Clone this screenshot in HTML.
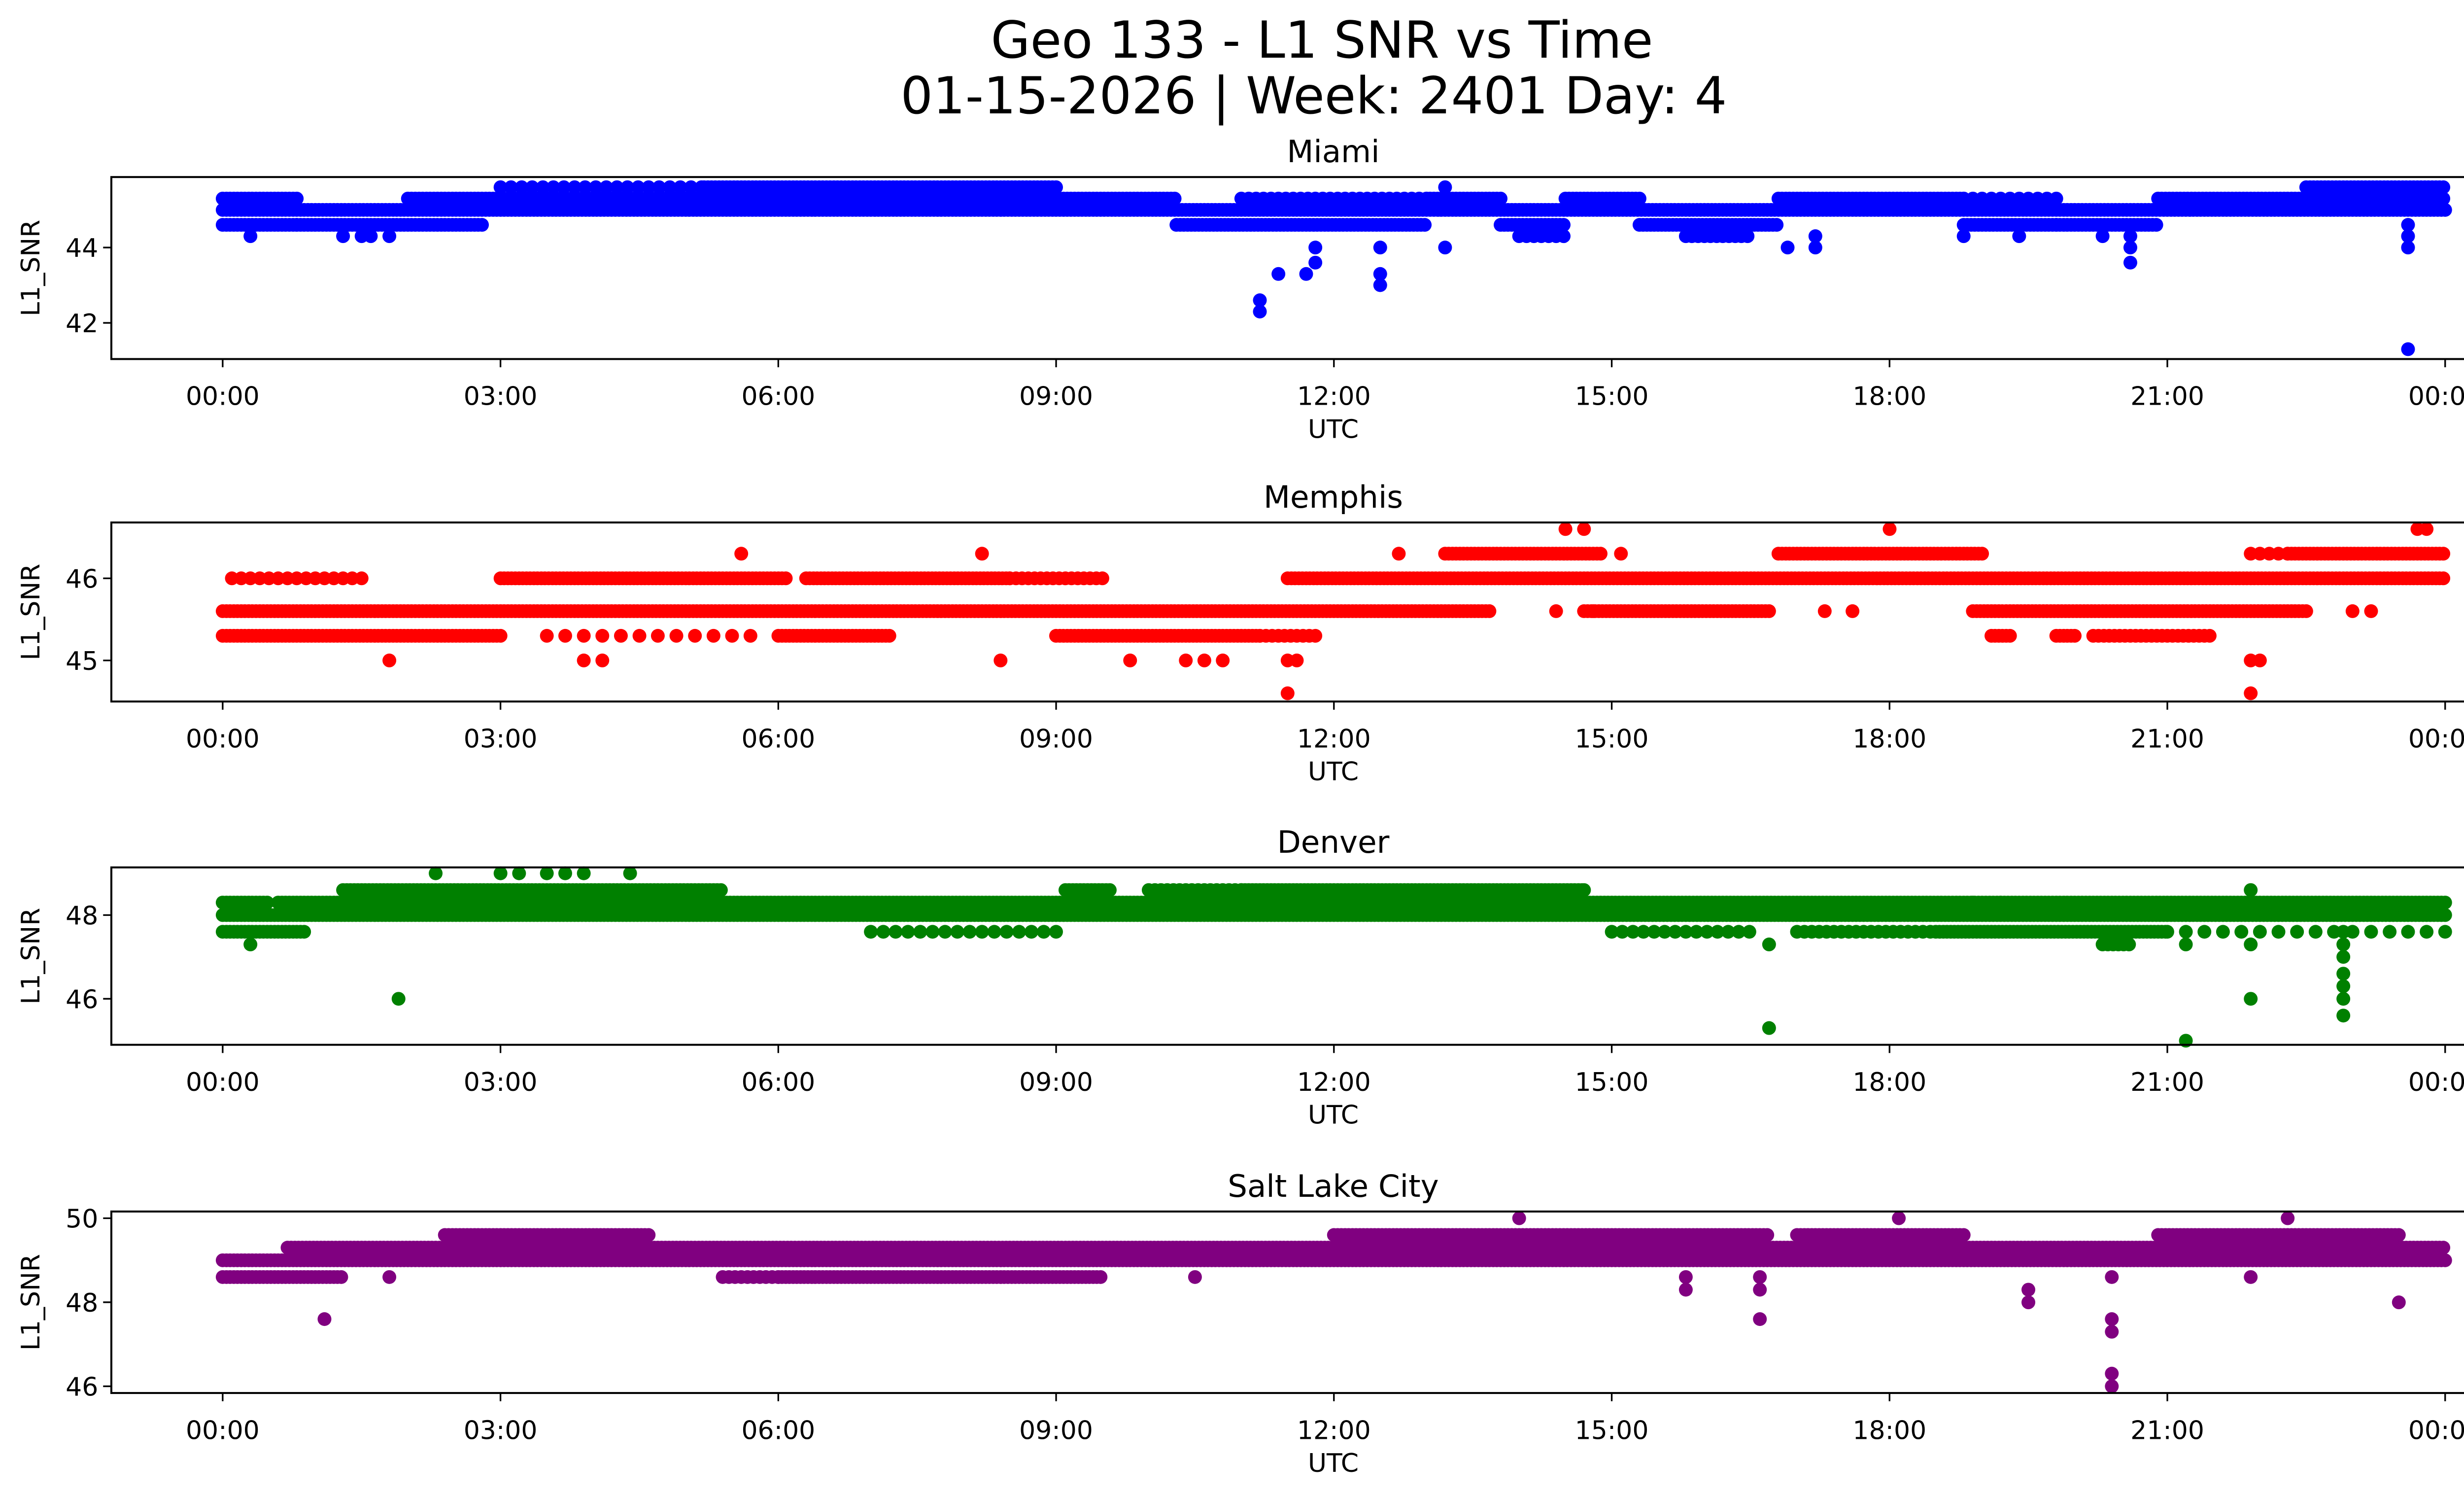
<!DOCTYPE html>
<html><head><meta charset="utf-8"><style>
html,body{margin:0;padding:0;background:#fff;overflow:hidden;}
svg{display:block;font-family:"DejaVu Sans","Liberation Sans",sans-serif;}
</style></head><body>
<svg id="chart" width="5225" height="3033" viewBox="0 0 1568 910" xmlns="http://www.w3.org/2000/svg">
<text x="805" y="35" font-size="31" text-anchor="middle">Geo 133 - L1 SNR vs Time</text>
<text x="800" y="69" font-size="31" text-anchor="middle">01-15-2026 | Week: 2401 Day: 4</text>
<g id="plots"></g>
</svg>
<script>
// ---- data (hours UTC, SNR dB) ----
const panelNames = ["Miami","Memphis","Denver","Salt Lake City"];
const panelColors = ["#0000ff","#ff0000","#008000","#800080"];
const yTicks = [[42,44],[45,46],[46,48],[46,48,50]];
const yDomains = [[41.04,45.87],[44.5,46.68],[44.9,49.14],[45.84,50.16]];
const xTickLabels = ["00:00","03:00","06:00","09:00","12:00","15:00","18:00","21:00","00:00"];
// bands: [startHour, endHour, value, density]
const miamiBands = [[0,24,45.0],[0,0.8,45.3],[0,0.8,44.6],[0.8,2.8,44.6],[2.0,10.3,45.3],[5.2,9.0,45.6],[3.0,5.2,45.6,0.35],
 [10.3,13.0,44.6],[11.0,13.0,45.3,0.5],[13.0,13.8,45.3],[13.8,14.5,44.6],[14.5,15.3,45.3],[15.3,16.8,44.6],[16.8,18.8,45.3],
 [18.8,19.8,44.6],[18.8,19.8,45.3,0.4],[19.8,20.9,44.6],[20.9,24,45.3],[22.5,24,45.6],[14.0,14.5,44.3,0.5],[15.8,16.5,44.3,0.6]];
const miamiX = [0.3,1.3,1.5,1.6,1.8,11.2,11.2,11.4,11.7,11.8,11.8,12.5,12.5,12.5,13.2,13.2,16.9,17.2,17.2,20.6,20.6,20.6,23.6,23.6,23.6,23.6,18.8,19.4,20.3];
const miamiY = [44.3,44.3,44.3,44.3,44.3,42.6,42.3,43.3,43.3,43.6,44.0,43.0,43.3,44.0,44.0,45.6,44.0,44.0,44.3,43.6,44.0,44.3,41.3,44.0,44.3,44.6,44.3,44.3,44.3];
const memphisBands = [[0,13.7,45.6],[0,3.0,45.3],[0.1,1.5,46.0,0.4],[3.0,6.1,46.0],[6.0,7.2,45.3],[6.3,8.5,46.0],[8.5,9.5,46.0,0.6],
 [9.0,11.2,45.3],[3.5,5.8,45.3,0.2],[11.5,24,46.0],[11.2,11.8,45.3,0.6],[13.2,14.9,46.3],[16.8,19.0,46.3],[22.3,24,46.3],[21.9,22.3,46.3,0.4],
 [14.7,16.7,45.6],[18.9,22.5,45.6],[20.2,21.5,45.3,0.7],[19.1,19.3,45.3],[19.8,20.0,45.3]];
const memphisX = [14.5,14.7,18.0,23.7,23.8,1.8,3.9,4.1,8.4,9.8,10.4,10.6,10.8,11.5,11.6,21.9,22.0,11.5,21.9,5.6,8.2,12.7,15.1,14.4,14.8,17.3,17.6,23.0,23.2];
const memphisY = [46.6,46.6,46.6,46.6,46.6,45.0,45.0,45.0,45.0,45.0,45.0,45.0,45.0,45.0,45.0,45.0,45.0,44.6,44.6,46.3,46.3,46.3,46.3,45.6,45.6,45.6,45.6,45.6,45.6];
const denverBands = [[0,24,48.0],[0,0.5,48.3],[0.6,24,48.3],[0,0.9,47.6],[7.0,9.0,47.6,0.3],[15.0,16.5,47.6,0.35],[17.0,18.5,47.6,0.5],[18.5,21.0,47.6],
 [21.0,24,47.6,0.2],[1.3,5.4,48.6],[9.1,9.6,48.6],[10.0,11.0,48.6,0.6],[11.0,14.7,48.6],[20.3,20.6,47.3,0.7]];
const denverX = [2.3,3.0,3.2,3.5,3.7,3.9,4.4,1.9,16.7,16.7,21.2,21.2,21.9,21.9,21.9,22.9,22.9,22.9,22.9,22.9,22.9,22.9,0.3,14.7,18.9,19.2];
const denverY = [49.0,49.0,49.0,49.0,49.0,49.0,49.0,46.0,45.3,47.3,45.0,47.3,46.0,47.3,48.6,47.6,47.3,47.0,46.6,46.3,46.0,45.6,47.3,48.6,48.3,48.3];
const slcBands = [[0,24,49.0],[0,1.3,48.6],[5.4,6.0,48.6,0.6],[6.0,9.5,48.6],[0.7,24,49.3],[2.4,4.6,49.6],[12.0,16.7,49.6],[17.0,18.8,49.6],[20.9,23.5,49.6]];
const slcX = [14.0,18.1,22.3,1.1,1.8,10.5,15.8,15.8,16.6,16.6,16.6,19.5,19.5,20.4,20.4,20.4,20.4,20.4,21.9,23.5];
const slcY = [50.0,50.0,50.0,47.6,48.6,48.6,48.6,48.3,48.6,48.3,47.6,48.3,48.0,48.6,47.6,47.3,46.3,46.0,48.6,48.0];
const allBands=[miamiBands,memphisBands,denverBands,slcBands];
const allX=[miamiX,memphisX,denverX,slcX];
const allY=[miamiY,memphisY,denverY,slcY];

const NS="http://www.w3.org/2000/svg";
const root=document.getElementById('plots');
const tops=[107.7,318,528,737.5], bots=[218.5,427,636,848];
const L=67.8,R=1556,X0=135.6,X1=1489;
const xs=h=>X0+(X1-X0)*h/24;
const RAD=4.2;
function mk(tag,attrs,parent){const e=document.createElementNS(NS,tag);for(const k in attrs)e.setAttribute(k,attrs[k]);parent.appendChild(e);return e;}
for(let p=0;p<4;p++){
  const g=mk('g',{},root);
  
  
  const T=tops[p],B=bots[p],[d0,d1]=yDomains[p];
  const ys=v=>B-(B-T)*(v-d0)/(d1-d0);
  const dots=mk('g',{fill:panelColors[p]},g);
  
  
  for(const b of allBands[p]){
    const dens=b[3]||1;const step=0.04/dens;
    for(let h=b[0];h<=b[1]+1e-9;h+=step){
      const c=mk('circle',{cx:xs(h).toFixed(1),cy:ys(b[2]).toFixed(1),r:RAD},dots);
      
      
    }
  }
  for(let i=0;i<allX[p].length;i++){
    const c=mk('circle',{cx:xs(allX[p][i]).toFixed(1),cy:ys(allY[p][i]).toFixed(1),r:RAD},dots);
    
    
  }
  const fr=mk('rect',{x:L,y:T,width:R-L,height:B-T,fill:'none',stroke:'#000','stroke-width':1.2},g);
  
  
  for(let i=0;i<xTickLabels.length;i++){
    const x=xs(i*3);
    mk('line',{x1:x,x2:x,y1:B,y2:B+5,stroke:'#000','stroke-width':1},g);
    const t=mk('text',{x:x,y:B+28,'font-size':15.6,'text-anchor':'middle'},g);
    t.textContent=xTickLabels[i];
    
    
  }
  for(const v of yTicks[p]){
    const y=ys(v);
    mk('line',{x1:L-5,x2:L,y1:y,y2:y,stroke:'#000','stroke-width':1},g);
    const t=mk('text',{x:L-8,y:y+5.7,'font-size':15.6,'text-anchor':'end'},g);
    t.textContent=v;
    
    
  }
  const ti=mk('text',{x:(L+R)/2,y:T-9,'font-size':18.8,'text-anchor':'middle'},g);
  ti.textContent=panelNames[p];
  
  
  const xl=mk('text',{x:(L+R)/2,y:B+48,'font-size':15.6,'text-anchor':'middle'},g);
  xl.textContent='UTC';
  
  
  const cy=(T+B)/2;
  const yl=mk('text',{x:24,y:cy,'font-size':15.6,'text-anchor':'middle',transform:`rotate(-90 24 ${cy})`},g);
  yl.textContent='L1_SNR';
  
  
}
</script>
</body></html>
